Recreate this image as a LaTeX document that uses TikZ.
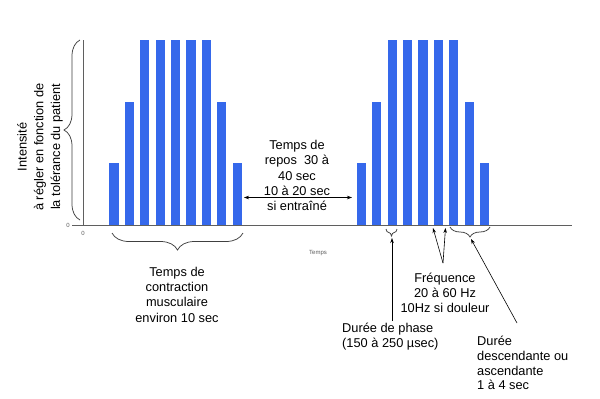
\documentclass[tikz,border=0pt]{standalone}
\usepackage{fontspec}
\setmainfont{Liberation Sans}
\usetikzlibrary{decorations.pathreplacing,arrows.meta,calc}
\definecolor{barblue}{RGB}{53,104,235}
\definecolor{axisgray}{RGB}{95,95,95}
\begin{document}
\begin{tikzpicture}[x=1pt,y=-1pt,
  lbl/.style={font=\fontsize{12.8}{15.3}\selectfont, align=center, inner sep=0pt},
  lbll/.style={font=\fontsize{12.8}{14.8}\selectfont, align=left, inner sep=0pt},
  rotlbl/.style={font=\fontsize{12.8}{16.8}\selectfont, align=center, inner sep=0pt},
  tinylbl/.style={font=\fontsize{6}{7}\selectfont, text=axisgray, inner sep=0pt},
  brc/.style={decorate, decoration={brace, amplitude=#1}, draw=black!75, line width=0.75pt},
  conn/.style={draw=black, line width=0.6pt, -{Stealth[length=5pt,width=3.5pt]}},
  conntwo/.style={draw=black, line width=0.6pt, {Stealth[length=5pt,width=3.5pt]}-{Stealth[length=5pt,width=3.5pt]}},
  barfill/.style={fill=barblue}]
\useasboundingbox (0,0) rectangle (600,399);
\fill[white] (0,0) rectangle (600,399);
% bars
\foreach \gx in {109.3,356.7}{
  \foreach \i/\h in {0/163.3,1/101.7,2/40,3/40,4/40,5/40,6/40,7/101.7,8/163.3}{
    \pgfmathsetmacro{\xl}{\gx+\i*15.4}
    \pgfmathsetmacro{\xr}{\xl+9.2}
    \fill[barfill] (\xl,\h) rectangle (\xr,225);
  }
}
% axes
\draw[axisgray, line width=0.8pt] (83,40) -- (83,225);
\draw[axisgray, line width=0.8pt] (72,225) -- (572,225);
\node[tinylbl] (zeroy) at (68,225) {0};
\node[tinylbl] (zerox) at (83,233) {0};
\node[tinylbl] (temps) at (318,253) {Temps};
% braces
\draw[brc=16] (80,220) -- (80,40);
\draw[brc=17] (243,233) -- (112,233);
\draw[brc=7] (397,229) -- (386,229);
\draw[brc=10] (490,227) -- (450,227);
% texts
\node[rotlbl, rotate=90] (intens) at (40,147) {Intensité\\à régler en fonction de\\la tolérance du patient};
\node[lbl] (repos) at (297,175.5) {Temps de\\repos\ \ 30 à\\40 sec\\10 à 20 sec\\si entraîné};
\node[lbl] (contr) at (177,294.5) {Temps de\\contraction\\musculaire\\environ 10 sec};
\node[lbl] (freq) at (445,293) {Fréquence\\20 à 60 Hz\\10Hz si douleur};
\node[lbll, anchor=west] (phase) at (342,336.5) {Durée de phase\\(150 à 250 µsec)};
\node[lbll, anchor=west] (duree) at (477,363) {Durée\\descendante ou\\ascendante\\1 à 4 sec};
% connectors
\coordinate (reposL) at (244,197.5);
\coordinate (reposR) at (352,197.5);
\draw[conntwo] (reposL) -- (reposR);
\coordinate (freqJ) at (443,263);
\coordinate (freqA) at (433,228);
\coordinate (freqB) at (445.5,228);
\draw[conn] (freqJ) -- (freqA);
\draw[conn] (freqJ) -- (freqB);
\coordinate (phaseT) at (392,238);
\coordinate (phaseB) at (392,321);
\draw[conn] (phaseB) -- (phaseT);
\coordinate (dureeT) at (471,239);
\coordinate (dureeB) at (517,323);
\draw[conn] (dureeB) -- (dureeT);
\end{tikzpicture}
\end{document}
